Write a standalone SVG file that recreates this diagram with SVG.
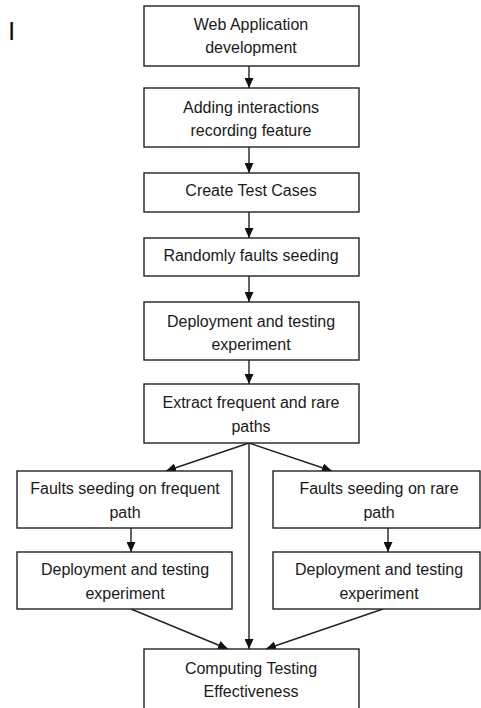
<svg xmlns="http://www.w3.org/2000/svg" width="481" height="708" viewBox="0 0 481 708">
<defs>
<style>
.box{fill:#fff;stroke:#222;stroke-width:1.4}
.t{font-family:"Liberation Sans",Arial,sans-serif;font-size:16px;fill:#1a1a1a;text-anchor:middle}
.c{stroke:#222;stroke-width:1.4;fill:none;marker-end:url(#ah)}
</style>
<marker id="ah" markerUnits="userSpaceOnUse" markerWidth="10" markerHeight="9" refX="10" refY="4.5" orient="auto" viewBox="0 0 10 9">
<path d="M0,0 L10,4.5 L0,9 Z" fill="#111"/>
</marker>
</defs>
<rect width="481" height="708" fill="#fff"/>
<text x="8" y="40" style="font-family:'Liberation Sans',Arial,sans-serif;font-size:26px;fill:#111">I</text>
<g id="connectors">
<line class="c" x1="249" y1="66" x2="249" y2="88"/>
<line class="c" x1="249" y1="147" x2="249" y2="173"/>
<line class="c" x1="249" y1="212" x2="249" y2="238"/>
<line class="c" x1="249" y1="276" x2="249" y2="302"/>
<line class="c" x1="249" y1="360" x2="249" y2="384"/>
<line class="c" x1="249" y1="443" x2="166" y2="471"/>
<line class="c" x1="249" y1="443" x2="332" y2="471"/>
<line class="c" x1="249" y1="443" x2="249" y2="649"/>
<line class="c" x1="131" y1="528" x2="131" y2="552"/>
<line class="c" x1="388" y1="528" x2="388" y2="552"/>
<line class="c" x1="131" y1="609" x2="228" y2="649"/>
<line class="c" x1="383" y1="609" x2="266" y2="649"/>
</g>
<g id="n1"><rect class="box" x="144" y="6" width="215" height="60"/><text class="t" x="251" y="30">Web Application</text><text class="t" x="251" y="53">development</text></g>
<g id="n2"><rect class="box" x="144" y="88" width="215" height="59"/><text class="t" x="251" y="113">Adding interactions</text><text class="t" x="251" y="136">recording feature</text></g>
<g id="n3"><rect class="box" x="144" y="173" width="215" height="39"/><text class="t" x="251" y="196">Create Test Cases</text></g>
<g id="n4"><rect class="box" x="144" y="238" width="215" height="38"/><text class="t" x="251" y="261">Randomly faults seeding</text></g>
<g id="n5"><rect class="box" x="144" y="302" width="215" height="58"/><text class="t" x="251" y="327">Deployment and testing</text><text class="t" x="251" y="350">experiment</text></g>
<g id="n6"><rect class="box" x="144" y="384" width="215" height="59"/><text class="t" x="251" y="408">Extract frequent and rare</text><text class="t" x="251" y="432">paths</text></g>
<g id="n7"><rect class="box" x="17" y="471" width="215" height="57"/><text class="t" x="125" y="494">Faults seeding on frequent</text><text class="t" x="125" y="518">path</text></g>
<g id="n8"><rect class="box" x="273" y="471" width="207" height="57"/><text class="t" x="379" y="494">Faults seeding on rare</text><text class="t" x="379" y="518">path</text></g>
<g id="n9"><rect class="box" x="17" y="552" width="215" height="57"/><text class="t" x="125" y="575">Deployment and testing</text><text class="t" x="125" y="599">experiment</text></g>
<g id="n10"><rect class="box" x="273" y="552" width="207" height="57"/><text class="t" x="379" y="575">Deployment and testing</text><text class="t" x="379" y="599">experiment</text></g>
<g id="n11"><rect class="box" x="144" y="649" width="215" height="70"/><text class="t" x="251" y="674">Computing Testing</text><text class="t" x="251" y="697">Effectiveness</text></g>
</svg>
